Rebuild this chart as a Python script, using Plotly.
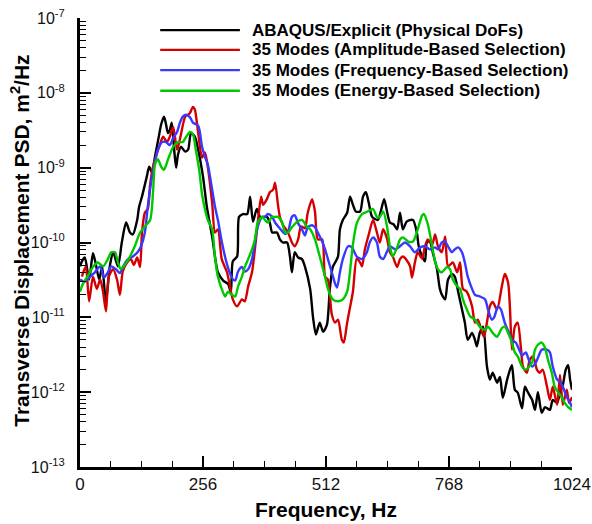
import plotly.graph_objects as go

# ---------------- data ----------------
black_freq = [0,4,10,19,27,33,40,46,54,62,69,79,87,96,104,110,119,123,129,139,144,150,156,164,169,175,179,183,187,191,196,200,204,210,219,225,231,239,246,256,264,275,287,298,308,314,318,327,331,339,348,354,360,368,375,389,395,400,410,416,422,431,437,441,447,454,462,468,479,485,491,499,506,514,520,526,531,537,541,547,556,562,568,574,583,589,595,601,608,620,626,633,639,645,653,660,666,672,680,693,701,705,712,718,722,728,735,743,749,755,760,766,774,780,787,795,801,807,816,822,826,832,839,847,853,859,868,874,880,889,895,899,905,911,920,926,932,941,947,953,961,968,978,984,993,999,1005,1011,1016,1020,1024]
black_psd = [4.8e-11,5.6e-11,6.3e-11,3.2e-11,7.2e-11,5.1e-11,3.2e-11,4.8e-11,1.6e-11,4.8e-11,7.4e-11,4.8e-11,1.0e-10,1.85e-10,1.36e-10,1.28e-10,2.0e-10,3.0e-10,4.1e-10,7.6e-10,1.03e-9,8.6e-10,1.4e-9,2.6e-9,3.8e-9,4.8e-9,3.8e-9,2.9e-9,3.2e-9,4.0e-9,1.74e-9,1.0e-9,1.5e-9,1.9e-9,1.64e-9,1.74e-9,2.9e-9,2.6e-9,1.74e-9,7.6e-10,3.0e-10,1.2e-10,4.0e-11,3.1e-11,2.8e-11,2.2e-11,5.6e-11,6.5e-11,2.2e-10,2.4e-10,2.4e-10,4.1e-10,1.9e-10,2.8e-10,2.2e-10,2.2e-10,1.85e-10,1.36e-10,1.36e-10,1.1e-10,1.0e-10,1.0e-10,6.5e-11,4.0e-11,7.4e-11,6.3e-11,6.0e-11,4.8e-11,2.4e-11,1.0e-11,5.9e-12,8.5e-12,6.4e-12,8.0e-12,2.4e-11,4.7e-11,5.4e-11,6.5e-11,1.5e-10,2.0e-10,2.5e-10,4.1e-10,3.2e-10,2.6e-10,2.6e-10,4.1e-10,4.7e-10,3.4e-10,2.2e-10,2.0e-10,2.6e-10,3.8e-10,2.6e-10,1.85e-10,1.74e-10,1.5e-10,2.5e-10,1.5e-10,1.9e-10,2.0e-10,1.36e-10,8.9e-11,6.5e-11,5.6e-11,1.0e-10,1.03e-10,7.0e-11,4.4e-11,2.4e-11,1.9e-11,1.74e-11,3.2e-11,3.8e-11,3.5e-11,2.2e-11,1.28e-11,8.5e-12,5.0e-12,6.2e-12,5.0e-12,4.1e-12,6.2e-12,7.5e-12,2.2e-12,1.47e-12,1.82e-12,1.34e-12,1.6e-12,8.4e-13,1.47e-12,2.0e-12,2.3e-12,1.08e-12,9.9e-13,6.1e-13,1.18e-12,1.0e-12,7.9e-13,5.8e-13,1.0e-12,5.3e-13,6.3e-13,5.8e-13,7.9e-13,7.2e-13,1.0e-12,1.26e-12,2.0e-12,2.3e-12,1.47e-12,1.08e-12]

red_freq = [4,12,19,27,35,42,48,54,60,69,77,83,89,98,106,112,119,125,129,135,141,146,152,158,166,173,181,187,194,202,208,219,225,229,235,239,246,254,260,266,275,281,287,295,306,312,318,327,337,343,350,358,364,370,377,381,389,395,402,406,412,416,422,433,441,447,454,460,468,474,483,489,495,504,510,516,524,531,537,545,549,556,562,568,576,583,587,593,601,610,618,624,631,639,645,651,660,666,672,680,687,691,697,703,712,718,724,733,739,745,753,760,766,776,785,791,797,805,816,822,828,837,841,849,853,859,868,878,884,891,895,899,905,911,918,922,930,936,943,951,957,963,972,978,984,993,999,1005,1013,1018,1024]
red_psd = [3.5e-11,4.8e-11,1.64e-11,3.5e-11,2.4e-11,3.2e-11,2.2e-11,1.2e-11,3.5e-11,4.4e-11,3.2e-11,2.0e-11,4.1e-11,5.4e-11,6.0e-11,5.0e-11,6.3e-11,4.7e-11,1.36e-10,2.5e-10,2.8e-10,6.0e-10,1.03e-9,1.4e-9,2.0e-9,2.6e-9,2.2e-9,2.6e-9,3.5e-9,1.74e-9,2.4e-9,4.8e-9,5.1e-9,5.4e-9,6.5e-9,6.0e-9,2.9e-9,1.36e-9,1.6e-9,1.03e-9,3.4e-10,1.36e-10,1.5e-10,6.0e-11,4.0e-11,2.6e-11,1.74e-11,1.4e-11,1.74e-11,1.64e-11,2.6e-11,4.0e-11,8.1e-11,1.85e-10,4.1e-10,3.2e-10,3.8e-10,4.7e-10,5.1e-10,6.3e-10,3.2e-10,2.2e-10,1.74e-10,1.36e-10,1.0e-10,8.9e-11,1.1e-10,1.64e-10,1.55e-10,2.5e-10,3.8e-10,2.6e-10,1.1e-10,1.1e-10,3.5e-11,3.2e-11,1.1e-11,8.5e-12,9.3e-12,5.0e-12,4.6e-12,8.5e-12,1.36e-11,2.2e-11,6.1e-11,5.4e-11,4.8e-11,8.1e-11,1.28e-10,2.0e-10,1.36e-10,1.0e-10,1.5e-10,1.13e-10,7.4e-11,6.5e-11,4.7e-11,6.0e-11,6.5e-11,5.8e-11,4.8e-11,3.4e-11,5.4e-11,7.4e-11,6.1e-11,8.9e-11,1.1e-10,9.4e-11,1.28e-10,8.9e-11,7.4e-11,1.2e-10,4.8e-11,5.4e-11,4.0e-11,5.4e-11,2.4e-11,2.2e-11,1.4e-11,8.5e-12,9.3e-12,6.2e-12,5.5e-12,1.03e-11,1.4e-11,1.6e-11,1.28e-11,2.6e-11,3.8e-11,2.9e-11,1.28e-11,3.7e-12,7.5e-12,8.5e-12,3.7e-12,2.2e-12,1.82e-12,2.7e-12,3.0e-12,2.0e-12,1.82e-12,2.0e-12,1.18e-12,7.9e-13,1.18e-12,6.8e-13,1.7e-12,6.8e-13,1.08e-12,7.2e-13,8.6e-13]

blue_freq = [0,10,21,31,42,50,58,65,75,83,89,100,110,121,127,135,141,148,156,162,171,179,187,194,202,208,214,221,229,235,246,254,260,266,275,281,287,295,306,316,323,329,337,343,350,358,364,370,379,385,391,400,406,416,427,433,441,447,454,462,468,474,483,489,495,504,510,516,524,531,535,541,547,558,566,576,587,597,603,610,618,624,631,639,645,656,666,676,687,697,708,718,728,739,745,753,760,766,774,780,787,795,801,807,816,822,832,843,849,857,862,870,876,884,893,899,907,914,920,928,934,941,949,955,961,972,978,984,993,999,1005,1013,1020,1024]
blue_psd = [3.2e-11,3.0e-11,3.5e-11,4.0e-11,4.8e-11,3.4e-11,4.0e-11,4.8e-11,4.4e-11,3.9e-11,4.7e-11,6.0e-11,6.5e-11,7.6e-11,8.9e-11,1.36e-10,3.0e-10,6.3e-10,1.17e-9,1.74e-9,2.2e-9,2.2e-9,2.0e-9,2.5e-9,3.0e-9,4.0e-9,4.8e-9,5.1e-9,4.7e-9,4.0e-9,3.65e-9,1.9e-9,1.4e-9,1.1e-9,5.1e-10,3.0e-10,2.0e-10,1.03e-10,5.1e-11,3.4e-11,3.1e-11,4.1e-11,4.7e-11,4.1e-11,4.4e-11,6.0e-11,1.0e-10,1.64e-10,2.2e-10,2.2e-10,2.4e-10,2.2e-10,1.85e-10,1.54e-10,1.3e-10,1.4e-10,2.2e-10,2.3e-10,1.8e-10,1.5e-10,1.24e-10,1.6e-10,1.7e-10,1.6e-10,1.36e-10,1.03e-10,8.1e-11,6.0e-11,4.0e-11,2.8e-11,2.5e-11,4.0e-11,6.0e-11,8.9e-11,8.6e-11,6.5e-11,6.0e-11,7.4e-11,1.0e-10,1.17e-10,1.0e-10,6.5e-11,6.0e-11,7.6e-11,8.9e-11,8.1e-11,8.9e-11,1.0e-10,8.9e-11,7.4e-11,8.6e-11,8.9e-11,8.1e-11,8.6e-11,8.1e-11,1.0e-10,1.03e-10,8.9e-11,7.4e-11,8.1e-11,8.6e-11,7.4e-11,5.4e-11,3.5e-11,2.4e-11,2.0e-11,1.9e-11,1.74e-11,1.28e-11,9.3e-12,1.0e-11,1.4e-11,1.28e-11,8.5e-12,6.2e-12,5.0e-12,4.6e-12,3.7e-12,3.1e-12,3.4e-12,2.7e-12,2.2e-12,2.5e-12,3.1e-12,3.7e-12,3.7e-12,3.4e-12,2.2e-12,1.47e-12,1.38e-12,1.18e-12,8.6e-13,7.2e-13,6.3e-13]

green_freq = [0,6,17,27,37,48,58,65,73,79,85,94,104,114,125,135,146,152,156,162,169,175,183,194,204,214,221,229,235,241,248,254,260,266,275,281,287,295,302,308,316,323,329,337,343,350,358,364,370,379,385,391,400,406,412,420,427,433,441,452,462,472,479,489,499,510,516,526,537,547,556,562,568,576,587,599,610,618,624,631,639,645,651,660,666,672,683,693,703,712,716,724,733,739,745,753,764,770,776,785,791,797,805,812,822,832,843,849,859,868,878,884,891,899,905,911,920,926,932,941,947,953,961,968,974,982,988,995,1003,1009,1016,1024]
green_psd = [2.2e-11,2.8e-11,3.65e-11,4.7e-11,5.4e-11,4.8e-11,6.0e-11,7.4e-11,7.4e-11,5.4e-11,4.4e-11,5.1e-11,6.5e-11,8.9e-11,1.36e-10,1.64e-10,2.0e-10,4.7e-10,1.1e-9,1.3e-9,1.03e-9,9.4e-10,1.28e-9,1.9e-9,2.2e-9,2.2e-9,2.6e-9,3.0e-9,2.8e-9,1.74e-9,9.4e-10,4.4e-10,2.8e-10,2.0e-10,1.5e-10,6.3e-11,3.5e-11,2.4e-11,1.9e-11,2.2e-11,2.0e-11,1.9e-11,2.6e-11,3.5e-11,4.7e-11,6.0e-11,8.1e-11,1.1e-10,1.85e-10,2.2e-10,2.0e-10,1.85e-10,2.2e-10,2.2e-10,2.2e-10,1.9e-10,1.36e-10,1.36e-10,1.6e-10,1.9e-10,2.0e-10,1.64e-10,1.5e-10,1.1e-10,6.5e-11,3.5e-11,2.4e-11,1.74e-11,1.64e-11,1.74e-11,2.2e-11,4.1e-11,9.4e-11,1.8e-10,2.4e-10,2.6e-10,2.8e-10,2.2e-10,2.2e-10,2.6e-10,1.64e-10,8.9e-11,6.5e-11,8.6e-11,1.1e-10,1.17e-10,1.03e-10,1.03e-10,1.5e-10,2.3e-10,2.4e-10,1.74e-10,8.9e-11,5.6e-11,4.4e-11,4.0e-11,4.7e-11,4.4e-11,3.2e-11,2.6e-11,2.4e-11,1.74e-11,1.28e-11,1.03e-11,9.3e-12,7.5e-12,6.8e-12,7.5e-12,6.2e-12,5.5e-12,7.2e-12,7.5e-12,6.2e-12,4.6e-12,3.4e-12,3.0e-12,2.2e-12,2.0e-12,2.1e-12,2.5e-12,3.7e-12,4.3e-12,4.6e-12,3.9e-12,2.7e-12,1.82e-12,1.18e-12,1.0e-12,8.4e-13,7.2e-13,6.3e-13,5.8e-13]

series_names = [
    "ABAQUS/Explicit (Physical DoFs)",
    "35 Modes (Amplitude-Based Selection)",
    "35 Modes (Frequency-Based Selection)",
    "35 Modes (Energy-Based Selection)",
]
series_colors = ["#000000", "#d40000", "#3838ff", "#00c800"]

x_tick_vals = [0, 256, 512, 768, 1024]
y_tick_exps = [-13, -12, -11, -10, -9, -8, -7]
x_title = "Frequency, Hz"
y_title = "Transverse Displacement PSD, m<sup>2</sup>/Hz"

# ---------------- figure ----------------
FONT = "Arial, Liberation Sans, sans-serif"
fig = go.Figure()
all_data = [(black_freq, black_psd), (red_freq, red_psd),
            (blue_freq, blue_psd), (green_freq, green_psd)]
for (fx, fy), name, col in zip(all_data, series_names, series_colors):
    fig.add_trace(go.Scatter(
        x=fx, y=fy, mode="lines", name=name,
        line=dict(color=col, width=2.4, shape="spline", smoothing=0.7),
        showlegend=False,
    ))

# hand-drawn legend (long line samples, like the original)
leg_rows = [0.973, 0.929, 0.884, 0.838]
for yy, name, col in zip(leg_rows, series_names, series_colors):
    fig.add_shape(type="line", xref="paper", yref="paper",
                  x0=0.163, x1=0.325, y0=yy, y1=yy,
                  line=dict(color=col, width=2.4))
    fig.add_annotation(xref="paper", yref="paper", x=0.346, y=yy,
                       text=name, showarrow=False, xanchor="left",
                       yanchor="middle",
                       font=dict(family=FONT, size=17, color="#000000",
                                 weight="bold"))

# axis titles placed as annotations so the plot area stays fixed
fig.add_annotation(xref="paper", yref="paper", x=0.5, y=-0.094,
                   text=x_title, showarrow=False, xanchor="center",
                   yanchor="middle",
                   font=dict(family=FONT, size=21, color="#000000",
                             weight="bold"))
fig.add_annotation(xref="paper", yref="paper", x=-0.121, y=0.505,
                   text=y_title, showarrow=False, textangle=-90,
                   xanchor="center", yanchor="middle",
                   font=dict(family=FONT, size=21, color="#000000",
                             weight="bold"))

fig.update_layout(
    width=592, height=524,
    margin=dict(l=80, r=20, t=18, b=57, autoexpand=False),
    paper_bgcolor="white", plot_bgcolor="white",
    font=dict(family=FONT, color="#000000"),
    xaxis=dict(
        range=[0, 1024], showgrid=False, zeroline=False, automargin=False,
        showline=True, linecolor="black", linewidth=3,
        ticks="inside", ticklen=11, tickwidth=2, tickcolor="black",
        tickvals=x_tick_vals, ticktext=[str(v) for v in x_tick_vals],
        tickfont=dict(size=17, family=FONT, color="#111111"),
        minor=dict(ticks="inside", ticklen=6, tickwidth=1,
                   tickcolor="black", dtick=64, showgrid=False),
    ),
    yaxis=dict(
        type="log", range=[-13, -7], showgrid=False, zeroline=False,
        automargin=False,
        showline=True, linecolor="black", linewidth=3,
        ticks="inside", ticklen=11, tickwidth=2, tickcolor="black",
        tickvals=[10.0 ** e for e in y_tick_exps],
        ticktext=["10<sup>%d</sup>" % e for e in y_tick_exps],
        tickfont=dict(size=16, family=FONT, color="#111111"),
        ticklabelstandoff=9,
        minor=dict(ticks="inside", ticklen=6, tickwidth=1,
                   tickcolor="black", dtick="D1", showgrid=False),
    ),
)

fig.write_html("out.html")
